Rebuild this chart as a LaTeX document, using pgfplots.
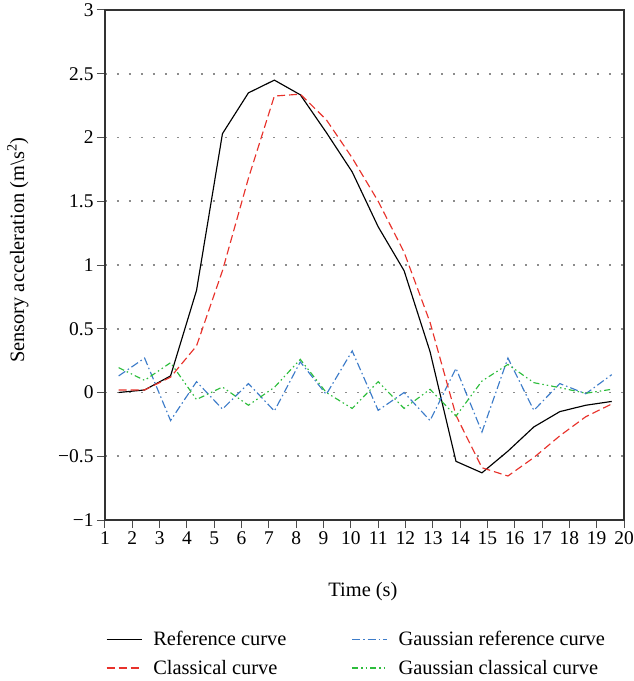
\documentclass[border=0pt]{standalone}
\usepackage{fontspec}
\setmainfont{Liberation Serif}
\usepackage{pgfplots}
\usepackage{pgfplotstable}
\pgfplotsset{compat=1.18}
\definecolor{cref}{HTML}{000000}
\definecolor{ccls}{HTML}{E8322B}
\definecolor{cgref}{HTML}{3D7CC9}
\definecolor{cgcls}{HTML}{2DBD3C}
\pgfplotstableread{
x ref cls gref gcls
1.5 0.00 0.02 0.13 0.195
2.45 0.02 0.02 0.27 0.095
3.4 0.13 0.12 -0.22 0.234
4.35 0.80 0.365 0.085 -0.055
5.3 2.03 0.955 -0.13 0.043
6.25 2.35 1.68 0.07 -0.10
7.2 2.45 2.325 -0.145 0.04
8.15 2.335 2.34 0.24 0.26
9.1 2.04 2.14 -0.015 0.0
10.05 1.73 1.84 0.326 -0.125
11.0 1.30 1.50 -0.14 0.085
11.95 0.955 1.10 0.0 -0.125
12.9 0.32 0.55 -0.22 0.025
13.85 -0.54 -0.18 0.19 -0.185
14.8 -0.63 -0.59 -0.31 0.09
15.75 -0.46 -0.655 0.27 0.22
16.7 -0.27 -0.51 -0.14 0.077
17.65 -0.15 -0.34 0.07 0.038
18.6 -0.10 -0.19 -0.01 -0.006
19.55 -0.07 -0.09 0.14 0.025
}\datatable
\begin{document}
\begin{tikzpicture}
\begin{axis}[
  scale only axis, width=519bp, height=510bp,
  xmin=1, xmax=20, ymin=-1, ymax=3,
  xtick={1,...,20}, ytick={-1,-0.5,0,0.5,1,1.5,2,2.5,3},
  yticklabels={−1,−0.5,0,0.5,1,1.5,2,2.5,3},
  xtick pos=bottom, ytick pos=left,
  tick align=outside, major tick length=8bp,
  tick style={line width=1bp, black!70},
  axis line style={line width=1.2bp, black!80},
  ymajorgrids, grid style={black!45, line width=1.6bp, dash pattern=on 1.6bp off 10.4bp},
  /pgf/number format/assume math mode=true,
  tick label style={font=\fontsize{19.5}{22}\selectfont},
  label style={font=\fontsize{20.5}{24}\selectfont},
  xlabel={Time (s)},
  ylabel={Sensory acceleration (m\textbackslash s\textsuperscript{2})},
  xlabel style={at={(axis description cs:0.497,-0.141)}, anchor=center},
  ylabel style={at={(axis description cs:-0.168,0.529)}, anchor=center},
  legend columns=2,
  legend cell align=left,
  legend image code/.code={\draw[#1] (0bp,0bp) -- (35bp,0bp);},
  legend style={at={(axis description cs:-0.004,-0.21)}, anchor=north west, draw=none, fill=none,
    font=\fontsize{20.5}{24}\selectfont, row sep=9bp,
    /tikz/every odd column/.append style={column sep=9bp},
    /tikz/every even column/.append style={column sep=63bp}},
]
\coordinate (bl) at (rel axis cs:0,0);
\coordinate (tr) at (rel axis cs:1,1);
\addplot[color=cref, line width=1.15bp] table[x=x,y=ref] {\datatable};
\addlegendentry{Reference curve}
\addplot[color=cgref, line width=1.15bp, dash pattern=on 8bp off 3bp on 1.5bp off 3bp] table[x=x,y=gref] {\datatable};
\addlegendentry{Gaussian reference curve}
\addplot[color=ccls, line width=1.15bp, dash pattern=on 8bp off 4bp] table[x=x,y=cls] {\datatable};
\addlegendentry{Classical curve}
\addplot[color=cgcls, line width=1.15bp, dash pattern=on 6bp off 3bp on 1.5bp off 3bp on 1.5bp off 3bp] table[x=x,y=gcls] {\datatable};
\addlegendentry{Gaussian classical curve}
\end{axis}
\pgfresetboundingbox
\path ([shift={(-105bp,-161bp)}]bl) rectangle ([shift={(9.5bp,10bp)}]tr);
\end{tikzpicture}
\end{document}
